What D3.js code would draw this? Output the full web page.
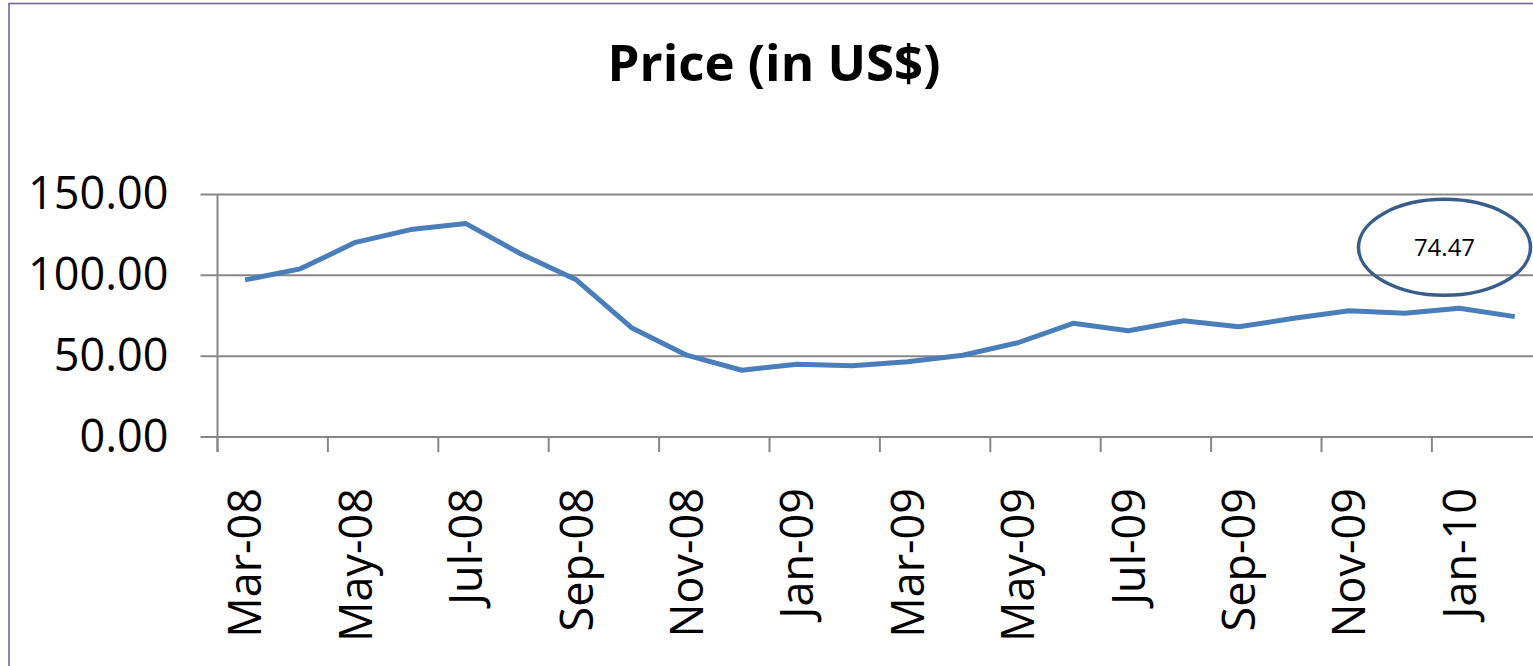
<!DOCTYPE html>
<html>
<head>
<meta charset="utf-8">
<script src="https://cdn.jsdelivr.net/npm/d3@7"></script>
<style>
  body { margin: 0; background: #fff; }
  svg { display: block; }
  text { font-family: "Open Sans", "Liberation Sans", sans-serif; }
</style>
</head>
<body>
<svg class="chart"></svg>
<script>
// months on the category axis
var months = ["Mar-08","Apr-08","May-08","Jun-08","Jul-08","Aug-08","Sep-08","Oct-08",
              "Nov-08","Dec-08","Jan-09","Feb-09","Mar-09","Apr-09","May-09","Jun-09",
              "Jul-09","Aug-09","Sep-09","Oct-09","Nov-09","Dec-09","Jan-10","Feb-10"];
// price in US$
var prices = [97.2,104.0,120.4,128.3,132.0,113.2,97.2,67.6,
              50.6,41.3,45.0,44.0,46.5,50.6,58.3,70.3,
              65.7,71.9,68.2,73.4,78.1,76.5,79.6,74.47];
var yTicks = [0,50,100,150];
var labelMonths = months.filter(function(d,i){ return i % 2 == 0; });
var title = "Price (in US$)";

var W = 1533, H = 666;
var margin = {top: 194.5, left: 217.5, bottom: 229};
var band = 55.2;
var plotRight = margin.left + months.length * band;
var axisCol = "#878787";

var svg = d3.select(".chart")
    .attr("width", W)
    .attr("height", H);

// outer chart frame
svg.append("rect")
    .attr("x", 9)
    .attr("y", 3.5)
    .attr("width", W + 20)
    .attr("height", H + 20)
    .attr("fill", "#fff")
    .attr("stroke", "#75639a")
    .attr("stroke-width", 1.6);

var x = d3.scaleBand()
    .domain(months)
    .range([margin.left, plotRight]);

var y = d3.scaleLinear()
    .domain([0,150])
    .range([437, margin.top]);

function xMid(m){ return x(m) + x.bandwidth()/2; }

// title
svg.append("text")
    .attr("x", 774)
    .attr("y", 81)
    .attr("text-anchor", "middle")
    .attr("font-weight", "bold")
    .attr("font-size", "51px")
    .attr("fill", "#000")
    .text(title);

// gridlines (with the outside tick stub on the left)
svg.append("g").selectAll("line")
    .data(yTicks)
    .enter().append("line")
    .attr("x1", margin.left - 17)
    .attr("x2", plotRight)
    .attr("y1", function(d){ return y(d); })
    .attr("y2", function(d){ return y(d); })
    .attr("stroke", axisCol)
    .attr("stroke-width", 2);

// y axis labels
var yAxis = d3.axisLeft(y)
    .tickValues(yTicks)
    .tickFormat(d3.format(".2f"))
    .tickSize(0)
    .tickPadding(49);

var gy = svg.append("g")
    .attr("transform", "translate(" + margin.left + ",0)")
    .call(yAxis);
gy.select(".domain").remove();
gy.selectAll("text")
    .attr("font-size", "45px")
    .attr("font-family", "'Open Sans', sans-serif")
    .attr("fill", "#000");

// y axis line, runs a bit below the x axis like a tick
svg.append("line")
    .attr("x1", margin.left).attr("x2", margin.left)
    .attr("y1", y(150)).attr("y2", y(0) + 15)
    .attr("stroke", axisCol)
    .attr("stroke-width", 2);

// x tick marks, between categories, every 2nd month
svg.append("g").selectAll("line")
    .data(labelMonths)
    .enter().append("line")
    .attr("x1", function(d){ return x(d); })
    .attr("x2", function(d){ return x(d); })
    .attr("y1", y(0))
    .attr("y2", y(0) + 15)
    .attr("stroke", axisCol)
    .attr("stroke-width", 2);

// x labels, rotated
svg.append("g").selectAll("text")
    .data(labelMonths)
    .enter().append("text")
    .attr("transform", function(d){ return "translate(" + xMid(d) + ",488) rotate(-90)"; })
    .attr("text-anchor", "end")
    .attr("dy", "0.36em")
    .attr("font-size", "45px")
    .attr("fill", "#000")
    .text(function(d){ return d; });

// price line
var line = d3.line()
    .x(function(d,i){ return xMid(months[i]); })
    .y(function(d){ return y(d); });

svg.append("path")
    .datum(prices)
    .attr("d", line)
    .attr("fill", "none")
    .attr("stroke", "#4a7ebb")
    .attr("stroke-width", 5)
    .attr("stroke-linejoin", "round");

// callout ellipse with the last price
var last = prices[prices.length - 1];
var cx = xMid("Jan-10") - 15, cy = y(117.3);
svg.append("ellipse")
    .attr("cx", cx)
    .attr("cy", cy)
    .attr("rx", 86)
    .attr("ry", 48)
    .attr("fill", "none")
    .attr("stroke", "#385d8a")
    .attr("stroke-width", 3.5);

svg.append("text")
    .attr("x", cx)
    .attr("y", cy)
    .attr("dy", "0.36em")
    .attr("text-anchor", "middle")
    .attr("font-size", "24px")
    .attr("fill", "#000")
    .text(d3.format(".2f")(last));
</script>
</body>
</html>
